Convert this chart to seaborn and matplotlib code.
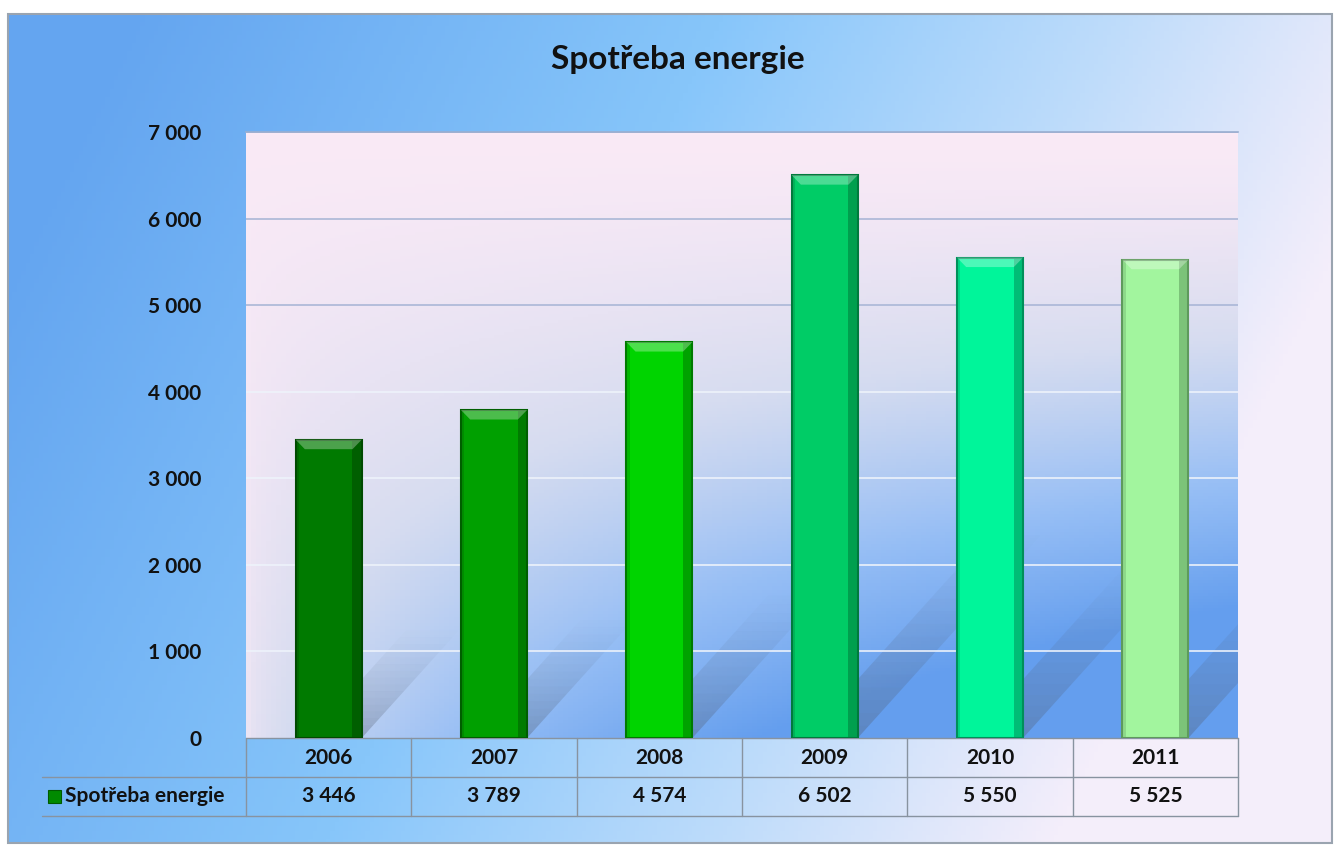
import numpy as np
import pandas as pd
import matplotlib
matplotlib.use("Agg")
import matplotlib.pyplot as plt
from matplotlib.patches import Polygon, Rectangle
import seaborn as sns

# data
years = ["2006", "2007", "2008", "2009", "2010", "2011"]
values = [3446, 3789, 4574, 6502, 5550, 5525]
bar_colors = ["#007a00", "#00a000", "#00d400", "#00cc66", "#00f59a", "#a2f59e"]
edge_colors = ["#004a00", "#005e00", "#007a00", "#007a3c", "#00905a", "#5e9a5c"]
series_name = "Spotřeba energie"
title = "Spotřeba energie"

sns.set_theme(style="white")
plt.rcParams['font.family'] = ['Lato', 'DejaVu Sans']

W, H = 1341, 851
fig = plt.figure(figsize=(W / 100, H / 100), dpi=100)
fig.patch.set_facecolor("white")


def ramp(t, stops, cols):
    cols = np.array(cols) / 255
    return np.stack([np.interp(t, stops, cols[:, c]) for c in range(3)], axis=-1)


# figure background gradient (blue left -> pale right)
bg = fig.add_axes([0, 0, 1, 1])
bg.set_axis_off()
u = np.linspace(0, 1, 300)[None, :]
v = np.linspace(0, 1, 200)[:, None]  # 0 top, 1 bottom
t = np.clip(u + (v - 0.3) * 0.3, 0, 1)
img = ramp(t, [0, 0.45, 0.75, 1.0],
           [(100, 165, 240), (135, 198, 250), (190, 220, 250), (244, 238, 250)])
fx0, fx1 = 8 / W, 1332 / W
fy0, fy1 = 1 - 843 / H, 1 - 14 / H
bg.imshow(img, extent=[fx0, fx1, fy0, fy1], aspect="auto", zorder=0)
bg.add_patch(Rectangle((fx0, fy0), fx1 - fx0, fy1 - fy0, fill=False,
                       edgecolor="#9aa4b0", lw=1.5, zorder=2))
bg.set_xlim(0, 1)
bg.set_ylim(0, 1)

# plot area
ax = fig.add_axes([246 / W, 1 - 738 / H, 992 / W, 606 / H])
n = len(years)
pu = np.linspace(0, 1, 200)[None, :]
pv = np.linspace(0, 1, 200)[:, None]  # 0 top
pt = np.clip(pu ** 0.6 * pv ** 1.5 * 1.3 + pv * 0.12, 0, 1)
pimg = ramp(pt, [0, 0.3, 0.65, 1.0],
            [(250, 234, 246), (214, 220, 240), (150, 190, 245), (100, 158, 238)])
ax.imshow(pimg, extent=[-0.5, n - 0.5, 0, 7000], aspect="auto", zorder=0)

# soft shadows behind bars
for i, val in enumerate(values):
    dx = 0.17 * val / 1000
    dy = 0.36 * val
    steps = 16
    for s in range(steps):
        a0, a1 = s / steps, (s + 1) / steps
        pts = [(i - 0.12 + dx * a0, dy * a0), (i + 0.2 + dx * a0, dy * a0),
               (i + 0.2 + dx * a1, dy * a1), (i - 0.12 + dx * a1, dy * a1)]
        ax.add_patch(Polygon(pts, closed=True, facecolor="#505868",
                             alpha=0.32 * (1 - a0) ** 1.4, lw=0, zorder=1))

df = pd.DataFrame({"year": years, "value": values})
sns.barplot(data=df, x="year", y="value", hue="year", palette=bar_colors,
            width=0.4, legend=False, ax=ax, zorder=3, saturation=1)
for patch, ec in zip(ax.patches[-n:], edge_colors):
    patch.set_edgecolor(ec)
    patch.set_linewidth(1.5)
    # bevel: darker right side, lighter top chamfer
    x0, w, h = patch.get_x(), patch.get_width(), patch.get_height()
    ax.add_patch(Rectangle((x0 + w * 0.86, 0), w * 0.14, h, facecolor=ec,
                           alpha=0.55, lw=0, zorder=4))
    ax.add_patch(Rectangle((x0, 0), w * 0.05, h, facecolor=ec,
                           alpha=0.3, lw=0, zorder=4))
    ax.add_patch(Polygon([(x0, h), (x0 + w, h), (x0 + w * 0.86, h - 110),
                          (x0 + w * 0.14, h - 110)], closed=True,
                         facecolor="white", alpha=0.3, lw=0, zorder=4))

ax.set_xlim(-0.5, n - 0.5)
ax.set_ylim(0, 7000)
ax.set_yticks(range(0, 7001, 1000))
ax.set_yticklabels([f"{y:,}".replace(",", " ") for y in range(0, 7001, 1000)],
                   fontsize=15, fontweight="bold", color="#111111")
ax.tick_params(axis="y", length=0, pad=32)
ax.set_xticks([])
ax.set_xlabel("")
ax.set_ylabel("")
for y in range(1000, 7001, 1000):
    gc = "#a9b6d6" if y >= 5000 else "#eef3fb"
    ax.axhline(y, color=gc, lw=1.3, zorder=2, alpha=0.9)
for sp in ["left", "right", "bottom"]:
    ax.spines[sp].set_visible(False)
ax.spines["top"].set_color("#9aaed0")
ax.spines["top"].set_linewidth(1.2)

# data table under the plot
row_h = 39 / 606
lab_x0 = (42 - 246) / 992
line_kw = dict(color="#8893a0", lw=1, transform=ax.transAxes, clip_on=False)
ax.plot([lab_x0, 1], [-row_h, -row_h], **line_kw)
ax.plot([lab_x0, 1], [-2 * row_h, -2 * row_h], **line_kw)
ax.plot([0, 1], [0, 0], **line_kw)
for k in range(n + 1):
    ax.plot([k / n, k / n], [0, -2 * row_h], **line_kw)
for k, (yr, val) in enumerate(zip(years, values)):
    xc = (k + 0.5) / n
    ax.text(xc, -0.5 * row_h, yr, transform=ax.transAxes, ha="center", va="center",
            fontsize=15, fontweight="bold", color="#111111")
    ax.text(xc, -1.5 * row_h, f"{val:,}".replace(",", " "), transform=ax.transAxes,
            ha="center", va="center", fontsize=15, fontweight="bold", color="#111111")
ax.add_patch(Rectangle(((48 - 246) / 992, -1.5 * row_h - 0.011), 13 / 992, 0.022,
                       transform=ax.transAxes, clip_on=False, facecolor="#008a00",
                       edgecolor="#005a00", lw=0.8))
ax.text((65 - 246) / 992, -1.5 * row_h, series_name, transform=ax.transAxes,
        ha="left", va="center", fontsize=15, fontweight="bold", color="#111111")

fig.text(678 / W, 1 - 60 / H, title, ha="center", va="center",
         fontsize=24, fontweight="bold", color="#111111")

fig.savefig("out.png", dpi=100)
